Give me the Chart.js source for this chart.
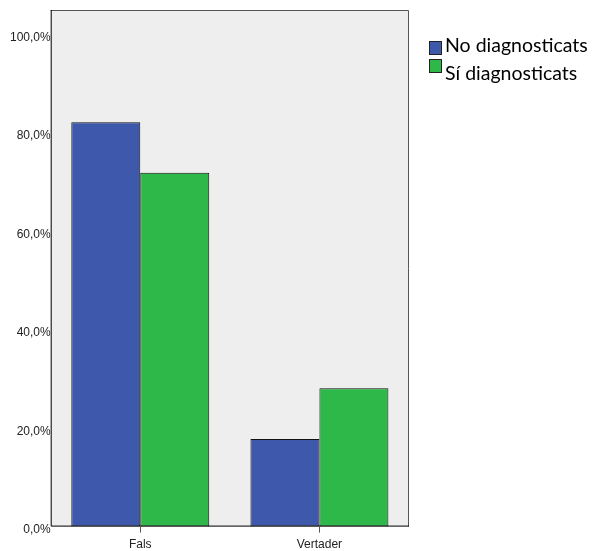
<!DOCTYPE html>
<html>
<head>
<meta charset="utf-8">
<script src="https://cdn.jsdelivr.net/npm/chart.js@4/dist/chart.umd.min.js"></script>
<style>
  html, body { margin: 0; padding: 0; background: #fff; }
  #wrap { width: 592px; height: 551px; }
</style>
</head>
<body>
<div id="wrap"><canvas id="chart"></canvas></div>
<script>
// Values (percent of each group)
var categories = ['Fals', 'Vertader'];
var noDiagnosticats = [82.2, 17.8];
var siDiagnosticats = [71.9, 28.1];
var yTicks = [0, 20, 40, 60, 80, 100];

// Grey plot background and frame, like the SPSS output
var plotFrame = {
    id: 'plotFrame',
    beforeDatasetsDraw: function(chart) {
        var a = chart.chartArea, c = chart.ctx;
        c.save();
        c.fillStyle = '#eeeeee';
        c.fillRect(a.left, a.top, a.right - a.left, a.bottom - a.top);
        c.restore();
    },
    afterDatasetsDraw: function(chart) {
        var a = chart.chartArea, c = chart.ctx;
        c.save();
        c.lineWidth = 1;
        c.strokeStyle = '#555555';
        c.beginPath();
        c.moveTo(a.left, a.top + 0.5);
        c.lineTo(a.right - 0.5, a.top + 0.5);
        c.lineTo(a.right - 0.5, a.bottom);
        c.stroke();
        c.strokeStyle = '#000000';
        c.beginPath();
        c.moveTo(a.left + 0.5, a.top);
        c.lineTo(a.left + 0.5, a.bottom - 0.5);
        c.lineTo(a.right, a.bottom - 0.5);
        c.stroke();
        c.restore();
    }
};

// SPSS-style legend to the right of the plot (boxes and labels from the datasets)
var sideLegend = {
    id: 'sideLegend',
    afterDraw: function(chart) {
        var c = chart.ctx, x = chart.chartArea.right + 20;
        c.save();
        chart.data.datasets.forEach(function(ds, i) {
            c.fillStyle = ds.backgroundColor;
            c.fillRect(x, 41 + i * 18, 13, 14);
            c.strokeStyle = '#222';
            c.lineWidth = 1;
            c.strokeRect(x + 0.5, 41.5 + i * 18, 12, 13);
            c.fillStyle = '#000';
            c.font = '19.5px Lato';
            c.textBaseline = 'alphabetic';
            c.fillText(ds.label, x + 16, 52 + i * 28);
        });
        c.restore();
    }
};

new Chart(document.getElementById('chart'), {
    type: 'bar',
    data: {
        labels: categories,
        datasets: [{
            label: 'No diagnosticats',
            data: noDiagnosticats,
            backgroundColor: '#3e58ac',
            borderColor: '#111111',
            borderWidth: 1,
            borderSkipped: false
        }, {
            label: 'Sí diagnosticats',
            data: siDiagnosticats,
            backgroundColor: '#2eb84a',
            borderColor: '#111111',
            borderWidth: 1,
            borderSkipped: false
        }]
    },
    options: {
        responsive: true,
        maintainAspectRatio: false,
        animation: false,
        layout: { padding: { left: 10, top: 10, right: 183, bottom: -6 } },
        datasets: {
            bar: { barPercentage: 1, categoryPercentage: 0.77 }
        },
        plugins: {
            tooltip: { enabled: false },
            legend: { display: false }
        },
        scales: {
            x: {
                grid: { display: true, drawOnChartArea: false, offset: false, color: '#555', tickLength: 6 },
                border: { display: false },
                ticks: {
                    font: { family: 'Liberation Sans', size: 12 },
                    color: '#222',
                    padding: 5
                }
            },
            y: {
                min: 0,
                max: 105,
                grid: { display: false, drawTicks: false },
                border: { display: false },
                afterBuildTicks: function(scale) {
                    scale.ticks = yTicks.map(function(v) { return { value: v }; });
                },
                ticks: {
                    font: { family: 'Liberation Sans', size: 12 },
                    color: '#222',
                    padding: 0,
                    labelOffset: 3,
                    callback: function(v) { return v.toFixed(1).replace('.', ',') + '%'; }
                }
            }
        }
    },
    plugins: [plotFrame, sideLegend]
});
</script>
</body>
</html>
